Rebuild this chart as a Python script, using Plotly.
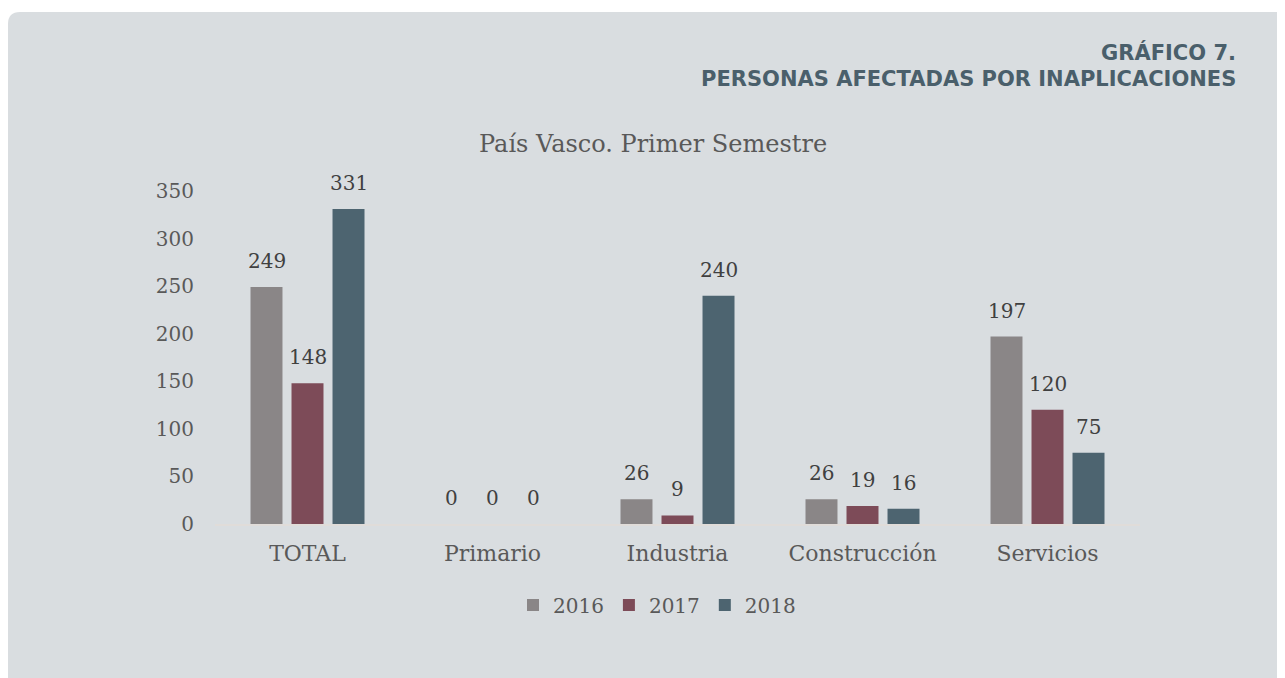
import plotly.graph_objects as go

categories = ["TOTAL", "Primario", "Industria", "Construcción", "Servicios"]
years = ["2016", "2017", "2018"]
v2016 = [249, 0, 26, 26, 197]
v2017 = [148, 0, 9, 19, 120]
v2018 = [331, 0, 240, 16, 75]
series = [v2016, v2017, v2018]
colors = ["#8a8687", "#7d4b58", "#4d6470"]

OFF = 8  # page body margin
W, H = 1285, 678
# plot area in screen pixels: x 215..1140, y 191..524
L = 215 - OFF
R = W - (1140 - OFF)
T = 191 - OFF
B = H - (524 - OFF)
pw, ph = W - L - R, H - T - B

def px(x):  # screen x -> paper
    return (x - OFF - L) / pw

def py(y):  # screen y -> paper
    return (H - B - (y - OFF)) / ph

SERIF = "DejaVu Serif"
fig = go.Figure()
for name, vals, col in zip(years, series, colors):
    fig.add_trace(go.Bar(x=categories, y=vals, name=name, marker_color=col,
                         marker_line_width=0))

# value labels
slot = 41
for i, (vals, col) in enumerate(zip(series, colors)):
    for c, v in zip(categories, vals):
        fig.add_annotation(x=c, y=v, text=str(v), showarrow=False, xref="x", yref="y",
                           xshift=(i - 1) * slot, yanchor="bottom", yshift=12,
                           font=dict(family=SERIF, size=20, color="#404040"))

# panel background
x0, y0, x1, y1, r = OFF, 12, 1300, 700, 12
path = (f"M {px(x0)},{py(y0 + r)} Q {px(x0)},{py(y0)} {px(x0 + r)},{py(y0)} "
        f"L {px(x1)},{py(y0)} L {px(x1)},{py(y1)} L {px(x0)},{py(y1)} Z")
fig.add_shape(type="path", path=path, xref="paper", yref="paper",
              fillcolor="#d9dde0", line_width=0, layer="below")

fig.add_annotation(text="<b>GRÁFICO 7.</b>", xref="paper", yref="paper",
                   x=px(1238), y=py(52), xanchor="right", yanchor="middle", showarrow=False,
                   font=dict(family="DejaVu Sans", size=21, color="#4a5f6b"))
fig.add_annotation(text="<b>PERSONAS AFECTADAS POR INAPLICACIONES</b>", xref="paper", yref="paper",
                   x=px(1238), y=py(79), xanchor="right", yanchor="middle", showarrow=False,
                   font=dict(family="DejaVu Sans", size=21, color="#4a5f6b"))
fig.add_annotation(text="País Vasco. Primer Semestre", xref="paper", yref="paper",
                   x=px(653), y=py(144), xanchor="center", yanchor="middle", showarrow=False,
                   font=dict(family=SERIF, size=24, color="#595959"))

fig.update_layout(
    width=W, height=H,
    margin=dict(l=L, r=R, t=T, b=B),
    paper_bgcolor="white", plot_bgcolor="rgba(0,0,0,0)",
    barmode="group", bargap=0.335, bargroupgap=0.22,
    font=dict(family=SERIF, size=20, color="#595959"),
    showlegend=True,
    legend=dict(orientation="h", x=px(657), xanchor="center", y=py(605), yanchor="middle",
                font=dict(family=SERIF, size=20, color="#595959"), bgcolor="rgba(0,0,0,0)",
                itemwidth=30, traceorder="normal"),
    xaxis=dict(showline=True, linecolor="#e0dcd9", linewidth=2, showgrid=False,
               ticks="", ticklabelstandoff=9,
               tickfont=dict(family=SERIF, size=22, color="#595959")),
    yaxis=dict(range=[0, 350], dtick=50, showgrid=False, zeroline=False, showline=False,
               ticks="", ticklabelstandoff=20,
               tickfont=dict(family=SERIF, size=20, color="#595959")),
)

fig.write_html("out.html")
